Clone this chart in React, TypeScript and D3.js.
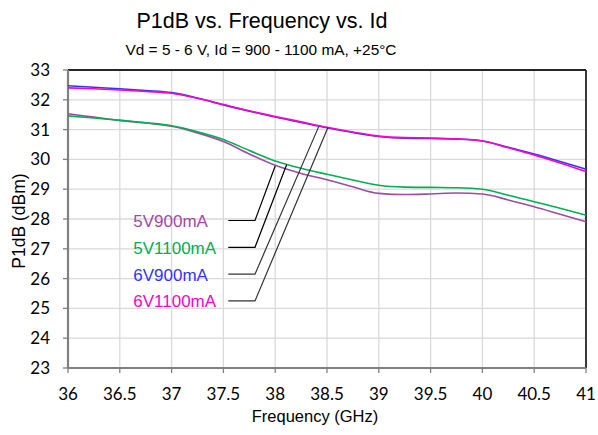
import React from "react";
import * as d3 from "d3";

const freqs = [36, 36.25, 36.5, 36.75, 37, 37.25, 37.5, 37.75, 38, 38.25, 38.5, 38.75, 39, 39.25, 39.5, 39.75, 40, 40.25, 40.5, 40.75, 41];
const s5V900 = [31.53, 31.42, 31.31, 31.22, 31.11, 30.89, 30.6, 30.18, 29.8, 29.53, 29.32, 29.08, 28.86, 28.82, 28.84, 28.87, 28.84, 28.64, 28.41, 28.16, 27.91];
const s5V1100 = [31.46, 31.39, 31.31, 31.23, 31.13, 30.93, 30.67, 30.3, 29.95, 29.7, 29.5, 29.31, 29.13, 29.07, 29.06, 29.05, 29.0, 28.8, 28.58, 28.36, 28.13];
const s6V900 = [32.47, 32.42, 32.37, 32.31, 32.24, 32.06, 31.83, 31.62, 31.42, 31.24, 31.06, 30.9, 30.77, 30.71, 30.7, 30.68, 30.62, 30.41, 30.18, 29.93, 29.67];
const s6V1100 = [32.4, 32.37, 32.33, 32.28, 32.22, 32.05, 31.84, 31.63, 31.44, 31.26, 31.08, 30.92, 30.78, 30.73, 30.72, 30.69, 30.62, 30.39, 30.15, 29.88, 29.59];

const seriesNames = ["5V900mA", "5V1100mA", "6V900mA", "6V1100mA"];
const seriesColors = ["#A04AA6", "#00B050", "#3333FF", "#FF00CC"];
const seriesValues = [s5V900, s5V1100, s6V900, s6V1100];

const xTicks = [36, 36.5, 37, 37.5, 38, 38.5, 39, 39.5, 40, 40.5, 41];
const yTicks = [23, 24, 25, 26, 27, 28, 29, 30, 31, 32, 33];

// label annotation (data units)
const labelX = 36.63;
const labelY = [27.95, 27.05, 26.15, 25.25];
const leaderStartX = 37.547;
const leaderElbowX = 37.805;
const leaderTargetX = [38.0, 38.11, 38.42, 38.51];
const leaderTargetY = [29.78, 29.82, 31.1, 31.08];

const W = 598;
const H = 435;
const left = 68;
const right = 586;
const top = 70;
const bottom = 368;

export default function App() {
  const x = d3.scaleLinear().domain([36, 41]).range([left, right]);
  const y = d3.scaleLinear().domain([23, 33]).range([bottom, top]);
  const line = d3
    .line<number>()
    .x((_, i) => x(freqs[i]))
    .y((d) => y(d))
    .curve(d3.curveMonotoneX);

  const tickFont = "Lato, 'Open Sans', sans-serif";
  const arial = "'Liberation Sans', Arial, sans-serif";

  return (
    <svg
      width={W}
      height={H}
      style={{ position: "absolute", left: 0, top: 0, background: "#fff" }}
    >
      <rect x={0} y={0} width={W} height={H} fill="#fff" />
      {xTicks.map((t) => (
        <line key={"gx" + t} x1={x(t)} x2={x(t)} y1={top} y2={bottom} stroke="#D9D9D9" strokeWidth={1.3} />
      ))}
      {yTicks.map((t) => (
        <line key={"gy" + t} x1={left} x2={right} y1={y(t)} y2={y(t)} stroke="#D9D9D9" strokeWidth={1.3} />
      ))}
      <line x1={left} x2={right} y1={top} y2={top} stroke="#262626" strokeWidth={1.8} />
      <line x1={right} x2={right} y1={top} y2={bottom} stroke="#262626" strokeWidth={1.8} />
      <line x1={left} x2={left} y1={top} y2={bottom} stroke="#808080" strokeWidth={2.2} />
      <line x1={left} x2={right} y1={bottom} y2={bottom} stroke="#808080" strokeWidth={2.2} />
      {yTicks.map((t) => (
        <g key={"ty" + t}>
          <line x1={left - 5} x2={left} y1={y(t)} y2={y(t)} stroke="#808080" strokeWidth={1.3} />
          <text x={50} y={y(t) + 6} textAnchor="end" fontFamily={tickFont} fontSize={17} fill="#000">
            {t}
          </text>
        </g>
      ))}
      {xTicks.map((t) => (
        <g key={"tx" + t}>
          <line x1={x(t)} x2={x(t)} y1={bottom} y2={bottom + 5} stroke="#808080" strokeWidth={1.3} />
          <text x={x(t)} y={400} textAnchor="middle" fontFamily={tickFont} fontSize={17} fill="#000">
            {t}
          </text>
        </g>
      ))}
      {seriesValues.map((vals, i) => (
        <path key={seriesNames[i]} d={line(vals) || ""} fill="none" stroke={seriesColors[i]} strokeWidth={1.6} />
      ))}
      {seriesNames.map((name, i) => (
        <g key={"lab" + name}>
          <polyline
            points={`${x(leaderStartX)},${y(labelY[i])} ${x(leaderElbowX)},${y(labelY[i])} ${x(leaderTargetX[i])},${y(leaderTargetY[i])}`}
            fill="none"
            stroke={i < 2 ? "#000" : "#333"}
            strokeWidth={1.2}
          />
          <text x={x(labelX)} y={y(labelY[i]) + 6.5} fontFamily={arial} fontSize={17} fill={seriesColors[i]}>
            {name}
          </text>
        </g>
      ))}
      <text x={262} y={28} textAnchor="middle" fontFamily={arial} fontSize={21.5} fill="#000">
        P1dB vs. Frequency vs. Id
      </text>
      <text x={261} y={55} textAnchor="middle" fontFamily={arial} fontSize={15.4} fill="#000">
        Vd = 5 - 6 V, Id = 900 - 1100 mA, +25°C
      </text>
      <text x={315} y={422} textAnchor="middle" fontFamily={arial} fontSize={16.5} fill="#000">
        Frequency (GHz)
      </text>
      <text
        transform={`translate(25,${221}) rotate(-90)`}
        textAnchor="middle"
        fontFamily={arial}
        fontSize={17.5}
        fill="#000"
      >
        P1dB (dBm)
      </text>
    </svg>
  );
}
